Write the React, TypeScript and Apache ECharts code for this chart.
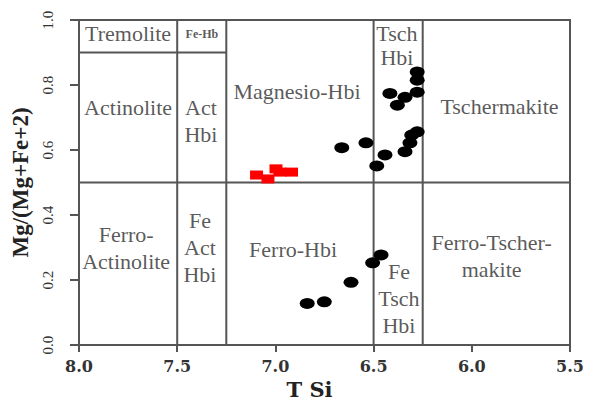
import React, { useEffect, useRef } from "react";
import * as echarts from "echarts";

// Axis ranges (T Si inverted, 8.0 -> 5.5)
const X_MIN = 5.5;
const X_MAX = 8.0;
const X_STEP = 0.5;
const Y_MIN = 0;
const Y_MAX = 1.0;
const Y_STEP = 0.2;

// Black samples
const blackSi = [6.278, 6.278, 6.278, 6.417, 6.34, 6.379, 6.278, 6.306, 6.315, 6.34, 6.442, 6.484, 6.539, 6.662, 6.462, 6.505, 6.615, 6.751, 6.838];
const blackMg = [0.84, 0.815, 0.778, 0.774, 0.762, 0.738, 0.656, 0.646, 0.622, 0.595, 0.585, 0.551, 0.622, 0.607, 0.277, 0.253, 0.193, 0.133, 0.128];

// Red samples
const redSi = [7.096, 7.038, 6.997, 6.977, 6.918];
const redMg = [0.523, 0.511, 0.542, 0.532, 0.532];

// Field boundaries (segments in data units)
const boundaries: number[][][] = [
  [[8.0, 0.5], [5.5, 0.5]],
  [[8.0, 0.9], [7.25, 0.9]],
  [[7.5, 0], [7.5, 1.0]],
  [[7.25, 0], [7.25, 1.0]],
  [[6.5, 0], [6.5, 1.0]],
  [[6.25, 0], [6.25, 1.0]],
];

// Field names and their positions
const fieldNames = [
  "Tremolite",
  "Fe-Hb",
  "Actinolite",
  "Act\nHbi",
  "Magnesio-Hbi",
  "Tsch\nHbi",
  "Tschermakite",
  "Ferro-\nActinolite",
  "Fe\nAct\nHbi",
  "Ferro-Hbi",
  "Fe\nTsch\nHbi",
  "Ferro-Tscher-\nmakite",
];
const fieldSi = [7.75, 7.374, 7.75, 7.379, 6.89, 6.381, 5.859, 7.76, 7.384, 6.91, 6.371, 5.899];
const fieldMg = [0.957, 0.957, 0.731, 0.689, 0.78, 0.923, 0.734, 0.3, 0.3, 0.295, 0.142, 0.275];

const SERIF = "'Liberation Serif', 'Times New Roman', serif";
const LINE = "#555555";
const TEXT = "#2e2e2e";

export default function App() {
  const ref = useRef<HTMLDivElement>(null);

  useEffect(() => {
    if (!ref.current) return;
    const chart = echarts.init(ref.current, null, { renderer: "svg" });

    const boundarySeries = boundaries.map((seg) => ({
      type: "line",
      data: seg,
      symbol: "none",
      silent: true,
      z: 1,
      lineStyle: { color: LINE, width: 2 },
    }));

    const labelData = fieldNames.map((name, i) => {
      const item: any = { value: [fieldSi[i], fieldMg[i], name] };
      if (name === "Fe-Hb") {
        item.label = { fontSize: 12, fontWeight: "bold", lineHeight: 14 };
      } else if (name === "Tsch\nHbi") {
        item.label = { lineHeight: 24 };
      }
      return item;
    });

    const ellipse = "path://M0,5 A5,5 0 1,0 10,5 A5,5 0 1,0 0,5 Z";

    chart.setOption({
      animation: false,
      backgroundColor: "#ffffff",
      grid: {
        left: 79,
        right: 19,
        top: 20,
        bottom: 58,
        show: true,
        borderColor: LINE,
        borderWidth: 2,
        containLabel: false,
        outerBoundsMode: "none",
      },
      xAxis: {
        type: "value",
        inverse: true,
        min: X_MIN,
        max: X_MAX,
        interval: X_STEP,
        name: "T Si",
        nameLocation: "middle",
        nameGap: 30,
        nameTextStyle: {
          fontFamily: "'DejaVu Serif', serif",
          fontWeight: "bold",
          fontSize: 21,
          color: "#222",
          padding: [0, 30, 0, 0],
        },
        axisLine: { show: true, lineStyle: { color: LINE, width: 2 } },
        axisTick: { show: true, length: 7, lineStyle: { color: LINE, width: 2 } },
        axisLabel: {
          margin: 13,
          fontFamily: "'DejaVu Serif', serif",
          fontWeight: "bold",
          fontSize: 16,
          color: "#333",
          formatter: (v: number) => v.toFixed(1),
        },
        splitLine: { show: false },
      },
      yAxis: {
        type: "value",
        min: Y_MIN,
        max: Y_MAX,
        interval: Y_STEP,
        name: "Mg/(Mg+Fe+2)",
        nameLocation: "middle",
        nameGap: 39,
        nameTextStyle: {
          fontFamily: SERIF,
          fontWeight: "bold",
          fontSize: 23,
          color: "#222",
        },
        axisLine: { show: true, lineStyle: { color: LINE, width: 2 } },
        axisTick: { show: true, length: 9, lineStyle: { color: LINE, width: 2 } },
        axisLabel: {
          rotate: 90,
          margin: 24,
          fontFamily: SERIF,
          fontSize: 15,
          color: "#333",
          formatter: (v: number) => v.toFixed(1),
        },
        splitLine: { show: false },
      },
      series: [
        ...boundarySeries,
        {
          type: "scatter",
          data: labelData,
          symbolSize: 0,
          silent: true,
          z: 2,
          label: {
            show: true,
            position: "inside",
            formatter: (p: any) => p.value[2],
            fontFamily: SERIF,
            fontSize: 22,
            lineHeight: 27,
            color: TEXT,
            align: "center",
            verticalAlign: "middle",
          },
        },
        {
          type: "scatter",
          data: blackSi.map((x, i) => [x, blackMg[i]]),
          symbol: ellipse,
          symbolSize: [15, 11],
          itemStyle: { color: "#000000", opacity: 1 },
          z: 3,
        },
        {
          type: "scatter",
          data: redSi.map((x, i) => [x, redMg[i]]),
          symbol: "rect",
          symbolSize: [13, 9],
          itemStyle: { color: "#ff0000", opacity: 1 },
          z: 4,
        },
      ],
    });

    return () => {
      chart.dispose();
    };
  }, []);

  return (
    <div
      ref={ref}
      style={{ position: "fixed", left: 0, top: 0, width: 589, height: 403, background: "#fff" }}
    />
  );
}
